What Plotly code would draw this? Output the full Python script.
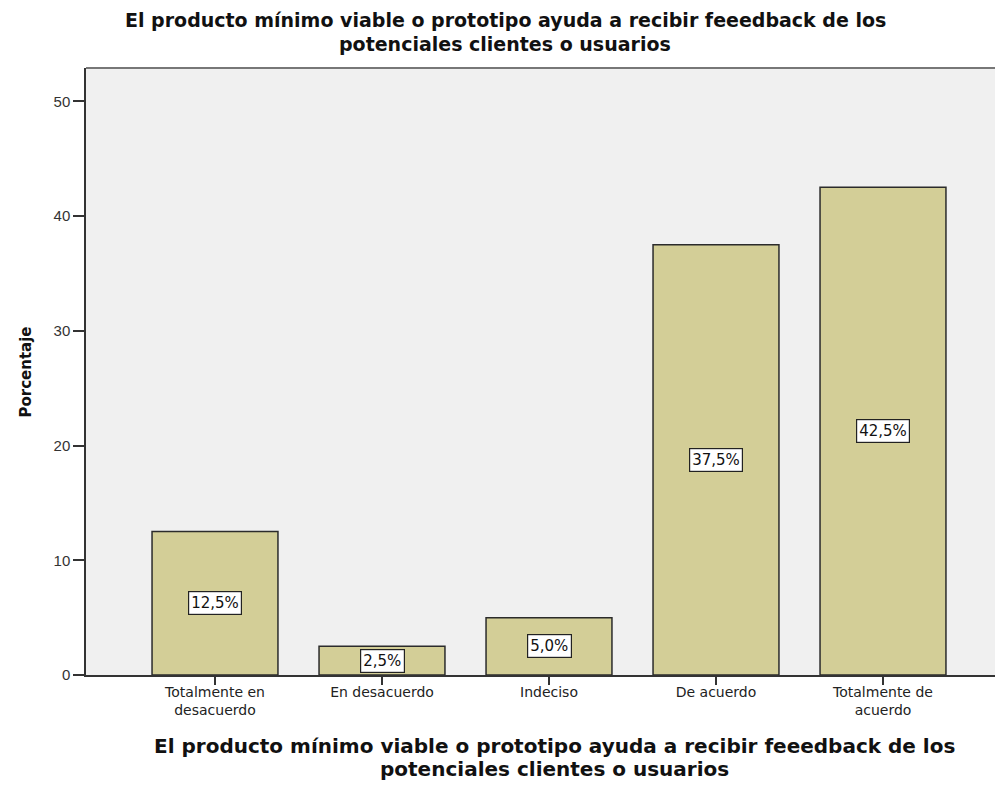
import plotly.graph_objects as go

categories = ["Totalmente en<br>desacuerdo", "En desacuerdo", "Indeciso", "De acuerdo", "Totalmente de<br>acuerdo"]
values = [12.5, 2.5, 5.0, 37.5, 42.5]
labels = ["12,5%", "2,5%", "5,0%", "37,5%", "42,5%"]
y_ticks = [0, 10, 20, 30, 40, 50]

title_lines = ["El producto mínimo viable o prototipo ayuda a recibir feeedback de los",
               "potenciales clientes o usuarios"]
x_title_lines = ["El producto mínimo viable o prototipo ayuda a recibir feeedback de los",
                 "potenciales clientes o usuarios"]
y_title = "Porcentaje"

# page offset (default body margin of the html page)
OFF = 8
W, H = 1003, 792
L, T = 86 - OFF, 68 - OFF          # plot area left / top in figure pixels
BOTTOM = 675 - OFF                  # x axis line in figure pixels
R = 0
B = H - BOTTOM
pw, ph = W - L - R, H - T - B

def px_x(xw):
    return (xw - OFF - L) / pw

def px_y(yw):
    return (BOTTOM - (yw - OFF)) / ph

fig = go.Figure()
fig.add_trace(go.Bar(
    x=list(range(len(categories))), y=values,
    marker=dict(color="#D3CE97", line=dict(color="#2b2b2b", width=1.5)),
    width=0.754, hoverinfo="skip",
))

for i, (v, lab) in enumerate(zip(values, labels)):
    fig.add_annotation(x=i, y=v / 2, text=lab, showarrow=False,
                       bgcolor="white", bordercolor="#222", borderwidth=1.2, borderpad=2,
                       font=dict(family="DejaVu Sans", size=15, color="#111"))

# chart title (two lines)
for line, yc in zip(title_lines, [20, 44]):
    fig.add_annotation(xref="paper", yref="paper", x=px_x(505), y=px_y(yc), text="<b>" + line + "</b>",
                       showarrow=False, xanchor="center", yanchor="middle",
                       font=dict(family="DejaVu Sans", size=19, color="#111"))

# x axis title (two lines)
for line, yc in zip(x_title_lines, [746, 769]):
    fig.add_annotation(xref="paper", yref="paper", x=px_x(554), y=px_y(yc), text="<b>" + line + "</b>",
                       showarrow=False, xanchor="center", yanchor="middle",
                       font=dict(family="DejaVu Sans", size=20, color="#111"))

# y axis title
fig.add_annotation(xref="paper", yref="paper", x=px_x(25), y=0.5, text="<b>" + y_title + "</b>",
                   showarrow=False, textangle=-90, xanchor="center", yanchor="middle",
                   font=dict(family="DejaVu Sans", size=15, color="#111"))

fig.add_shape(type="line", xref="paper", yref="paper", x0=0, x1=1, y0=1, y1=1,
              line=dict(color="#777", width=2))

# x range so that categories sit at their positions: centres 215 + 167*i (window px)
x_left = (86 - 215) / 167
x_right = (W + OFF - 215) / 167

fig.update_layout(
    width=W, height=H,
    paper_bgcolor="white", plot_bgcolor="#F0F0F0",
    margin=dict(l=L, r=R, t=T, b=B, autoexpand=False),
    showlegend=False,
    xaxis=dict(
        tickmode="array", tickvals=list(range(len(categories))), ticktext=categories,
        range=[x_left, x_right], showgrid=False, zeroline=False, automargin=False,
        showline=True, linecolor="#333", linewidth=1.5,
        ticks="outside", ticklen=8, tickcolor="#333", tickwidth=1.5,
        ticklabelstandoff=-5,
        tickfont=dict(family="DejaVu Sans", size=14, color="#222"),
    ),
    yaxis=dict(
        tickmode="array", tickvals=y_ticks, range=[0, 52.9],
        showgrid=False, zeroline=False, automargin=False,
        showline=True, linecolor="#333", linewidth=1.5,
        ticks="outside", ticklen=11, tickcolor="#333", tickwidth=1.5,
        tickfont=dict(family="Liberation Sans, Arial", size=15, color="#333"),
    ),
)

fig.write_html("out.html")
